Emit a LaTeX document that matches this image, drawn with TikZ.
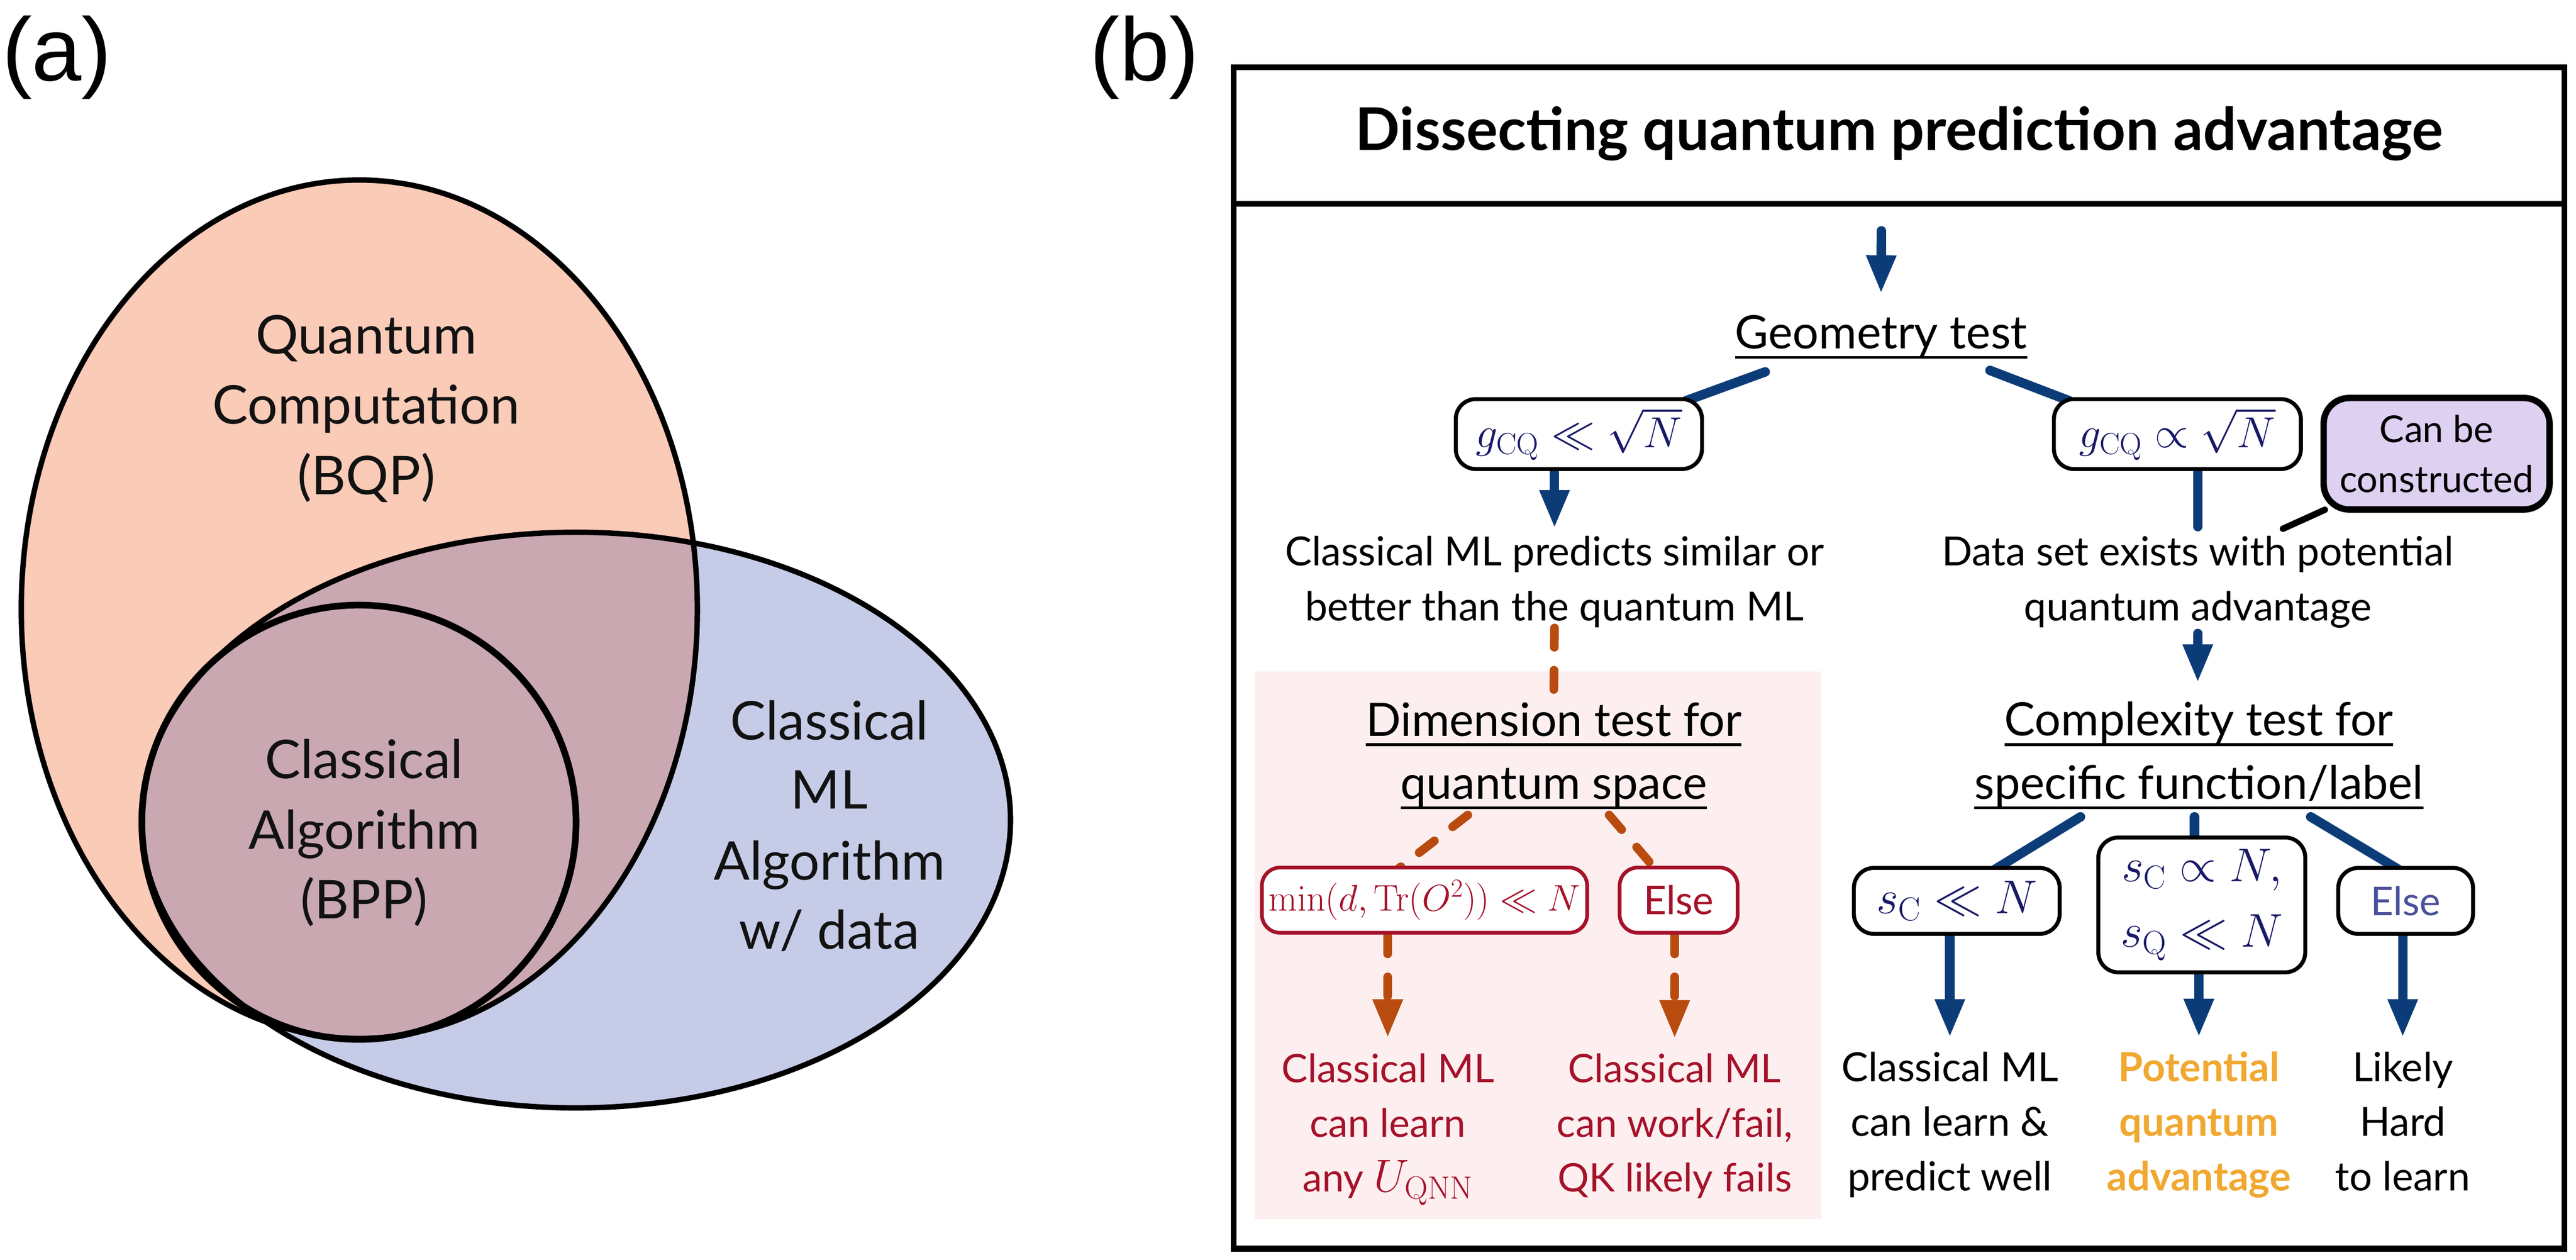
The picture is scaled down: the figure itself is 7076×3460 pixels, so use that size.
\RequirePackage{fix-cm}
\documentclass[tikz,border=0pt]{standalone}
\usepackage[no-math]{fontspec}
\setmainfont{Lato}
\newfontfamily\labfont{Liberation Sans}
\usetikzlibrary{arrows.meta,calc}
\definecolor{navy}{RGB}{12,60,120}
\definecolor{mathnavy}{RGB}{25,25,105}
\definecolor{orng}{RGB}{185,75,15}
\definecolor{redc}{RGB}{165,18,42}
\definecolor{pinkbg}{RGB}{253,239,239}
\definecolor{lav}{RGB}{221,208,241}
\definecolor{gold}{RGB}{240,168,48}
\definecolor{elseblue}{RGB}{75,80,155}
\definecolor{qfill}{RGB}{250,203,183}
\definecolor{mlfill}{RGB}{198,204,231}
\definecolor{mixfill}{RGB}{201,168,177}
\pgfdeclarelayer{back}
\pgfdeclarelayer{links}
\pgfsetlayers{back,links,main}
\newcommand\ulin[1]{\setbox0\hbox{#1}\rlap{\rule[-0.225em]{\wd0}{0.065em}}\box0}
\newcommand\fbody{\fontsize{31.3pt}{43.8pt}\selectfont}
\newcommand\fhead{\fontsize{36pt}{49pt}\selectfont}
\newcommand\ftitle{\fontsize{46pt}{52pt}\selectfont}
\newcommand\fred{\fontsize{30.7pt}{43pt}\selectfont}
\newcommand\fvenn{\fontsize{41.7pt}{55pt}\selectfont}
\newcommand\flab{\labfont\fontsize{70pt}{80pt}\selectfont}
\newcommand\fmathA{\fontsize{34pt}{40pt}\selectfont}
\newcommand\fmathB{\fontsize{29pt}{35pt}\selectfont}
\newcommand\fmathC{\fontsize{37pt}{51pt}\selectfont}
\newcommand\felse{\fontsize{31pt}{36pt}\selectfont}
\newcommand\fcan{\fontsize{29pt}{39pt}\selectfont}
\begin{document}
\begin{tikzpicture}[x=0.01cm,y=-0.01cm,
  txt/.style={inner sep=0pt, anchor=base, font=\fbody},
  venn/.style={inner sep=0pt, anchor=base, font=\fvenn, text=black!93},
  redt/.style={inner sep=0pt, anchor=base, font=\fred, text=redc},
  goldt/.style={inner sep=0pt, anchor=base, font=\fbody\bfseries, text=gold},
  head/.style={inner sep=0pt, anchor=base, font=\fhead},
  bbox/.style={draw=black, line width=3.1pt, rounded corners=0.55cm, fill=white, inner sep=0pt, text=mathnavy, font=\fmathA},
  rbox/.style={draw=redc, line width=2.9pt, rounded corners=0.5cm, fill=white, inner sep=0pt, text=redc, font=\fmathB},
  cbox/.style={draw=black, line width=5pt, rounded corners=0.7cm, fill=lav, inner sep=0pt, align=center, font=\fcan},
  navyarrow/.style={draw=navy, line width=7.4pt, line cap=round, -{Triangle[width=21.6pt,length=30pt]}},
  navyline/.style={draw=navy, line width=7.4pt, line cap=round},
  odash/.style={draw=orng, line width=6.8pt, line cap=round, dash pattern=on 15pt off 18pt},
  oarrow/.style={odash, -{Triangle[width=22pt,length=30pt]}}
]
\useasboundingbox (0,0) rectangle (7076,3460);
\begin{pgfonlayer}{back}
  \fill[white] (0,0) rectangle (7076,3460);
  \fill[pinkbg] (3447,1844) rectangle (5003,3348);
\end{pgfonlayer}

% ---------- (a) Venn diagram ----------
\fill[qfill] (987,1673) ellipse [x radius=9.28cm, y radius=11.78cm];
\fill[mlfill] (1582,2252) ellipse [x radius=11.93cm, y radius=7.9cm];
\begin{scope}
  \clip (987,1673) ellipse [x radius=9.28cm, y radius=11.78cm];
  \fill[mixfill] (1582,2252) ellipse [x radius=11.93cm, y radius=7.9cm];
\end{scope}
\fill[mixfill] (986,2258) circle [radius=5.96cm];
\draw[line width=4.2pt] (987,1673) ellipse [x radius=9.28cm, y radius=11.78cm];
\draw[line width=4.2pt] (1582,2252) ellipse [x radius=11.93cm, y radius=7.9cm];
\draw[line width=5.2pt] (986,2258) circle [radius=5.96cm];

\node[venn] (q1) at (1006,972) {Quantum};
\node[venn] (q2) at (1006,1164) {Computation};
\node[venn] (q3) at (1006,1358) {(BQP)};
\node[venn] (c1) at (1000,2137) {Classical};
\node[venn] (c2) at (1000,2332) {Algorithm};
\node[venn] (c3) at (1000,2522) {(BPP)};
\node[venn] (m1) at (2278,2031) {Classical};
\node[venn] (m2) at (2278,2221) {ML};
\node[venn] (m3) at (2278,2417) {Algorithm};
\node[venn] (m4) at (2278,2606) {w/ data};

\node[anchor=base west, inner sep=0pt, font=\flab] (la) at (5,221) {(a)};
\node[anchor=base east, inner sep=0pt, font=\flab] (lb) at (3295,221) {(b)};

% ---------- (b) flow chart ----------
\draw[line width=4.6pt] (3389,185) rectangle (7044,3429);
\draw[line width=4.6pt] (3389,560) -- (7044,560);

\node[txt, font=\ftitle\bfseries] (title) at (5217,413) {Dissecting quantum prediction advantage};
\node[head] (geo) at (5167,957) {\ulin{Geometry test}};

\node[bbox, minimum width=6.76cm, minimum height=1.92cm] (gL) at (4337,1192) {$g_{\mathrm{CQ}}\ll\sqrt{N}$};
\node[bbox, minimum width=6.78cm, minimum height=1.92cm] (gR) at (5981,1192) {$g_{\mathrm{CQ}}\propto\sqrt{N}$};
\node[cbox, minimum width=6.2cm, minimum height=3.06cm] (canbe) at (6693,1246) {Can be\\constructed};

\node[txt] (cml1) at (4270,1553) {Classical ML predicts similar or};
\node[txt] (cml2) at (4270,1705) {better than the quantum ML};
\node[txt] (ds1) at (6037,1553) {Data set exists with potential};
\node[txt] (ds2) at (6037,1705) {quantum advantage};

\node[head] (dim1) at (4268,2021) {\ulin{Dimension test for}};
\node[head] (dim2) at (4268,2194) {\ulin{quantum space}};
\node[head] (cx1) at (6040,2020) {\ulin{Complexity test for}};
\node[head] (cx2) at (6040,2194) {\ulin{specific function/label}};

\node[rbox, minimum width=8.93cm, minimum height=1.79cm] (minbox) at (3913,2472) {$\min(d,\mathrm{Tr}(O^2))\ll N$};
\node[rbox, minimum width=3.24cm, minimum height=1.79cm, font=\felse] (elseR) at (4611,2472) {Else};
\node[bbox, minimum width=5.65cm, minimum height=1.81cm, font=\fmathC] (scbox) at (5375,2474) {$s_{\mathrm{C}}\ll N$};
\node[bbox, minimum width=5.68cm, minimum height=3.7cm, font=\fmathC, align=center] (midbox) at (6048,2485) {$s_{\mathrm{C}}\propto N,$\\$s_{\mathrm{Q}}\ll N$};
\node[bbox, minimum width=3.7cm, minimum height=1.81cm, font=\felse, text=elseblue] (elseB) at (6608,2474) {Else};

\node[redt] (r1a) at (3812,2973) {Classical ML};
\node[redt] (r1b) at (3812,3123) {can learn};
\node[redt] (r1c) at (3812,3273) {any {\fontsize{36pt}{43pt}\selectfont$U_{\mathrm{QNN}}$}};
\node[redt] (r2a) at (4600,2973) {Classical ML};
\node[redt] (r2b) at (4600,3123) {can work/fail,};
\node[redt] (r2c) at (4600,3273) {QK likely fails};

\node[txt] (b1a) at (5356,2970) {Classical ML};
\node[txt] (b1b) at (5356,3120) {can learn \&};
\node[txt] (b1c) at (5356,3270) {predict well};
\node[goldt] (b2a) at (6040,2970) {Potential};
\node[goldt] (b2b) at (6040,3120) {quantum};
\node[goldt] (b2c) at (6040,3270) {advantage};
\node[txt] (b3a) at (6600,2970) {Likely};
\node[txt] (b3b) at (6600,3120) {Hard};
\node[txt] (b3c) at (6600,3270) {to learn};

% ---------- connectors ----------
\begin{pgfonlayer}{links}
  \coordinate (start) at (5168,634);
  \draw[navyarrow] (start) -- ([yshift=0.58cm]geo.north);
  \draw[navyline] ([xshift=-3.18cm,yshift=-0.35cm]geo.south) -- ([xshift=2.94cm,yshift=-0.1cm]gL.north);
  \draw[navyline] ([xshift=2.99cm,yshift=-0.31cm]geo.south) -- ([xshift=-2.97cm,yshift=-0.1cm]gR.north);
  \draw[navyarrow] (gL.south -| cml1.north) -- ([yshift=0.2cm]cml1.north);
  \draw[navyline] (gR.south -| ds1.north) -- ([yshift=0.25cm]ds1.north);
  \coordinate (ptr) at (6271,1452);
  \draw[line width=5pt, line cap=round] ([xshift=0.12cm,yshift=0.08cm]canbe.south west) -- (ptr);
  \draw[navyarrow] ([yshift=-0.14cm]ds2.south) -- ([yshift=0.51cm]ds2.south |- cx1.north);

  \draw[odash] (cml2.south) -- ([yshift=0.23cm]dim1.north);
  \draw[odash] ([xshift=-2.36cm,yshift=-0.15cm]dim2.south) -- ([xshift=-0.74cm,yshift=-0.1cm]minbox.north);
  \draw[odash] ([xshift=1.52cm,yshift=-0.15cm]dim2.south) -- ([xshift=-0.63cm,yshift=-0.1cm]elseR.north);
  \draw[oarrow] (minbox.south -| r1a.north) -- ([yshift=0.43cm]r1a.north);
  \draw[oarrow] (elseR.south -| r2a.north) -- ([yshift=0.41cm]r2a.north);

  \draw[navyline] ([xshift=-3.25cm,yshift=-0.2cm]cx2.south) -- ([xshift=1.04cm,yshift=-0.1cm]scbox.north);
  \coordinate (m0) at ([xshift=-0.12cm,yshift=-0.2cm]cx2.south);
  \draw[navyline] (m0) -- (m0 |- midbox.north);
  \draw[navyline] ([xshift=3.07cm,yshift=-0.2cm]cx2.south) -- ([xshift=-0.19cm,yshift=-0.1cm]elseB.north);
  \draw[navyarrow] (scbox.south -| b1a.north) -- ([yshift=0.39cm]b1a.north);
  \draw[navyarrow] (midbox.south -| b2a.north) -- ([yshift=0.39cm]b2a.north);
  \draw[navyarrow] (elseB.south -| b3a.north) -- ([yshift=0.39cm]b3a.north);
\end{pgfonlayer}
\end{tikzpicture}
\end{document}
